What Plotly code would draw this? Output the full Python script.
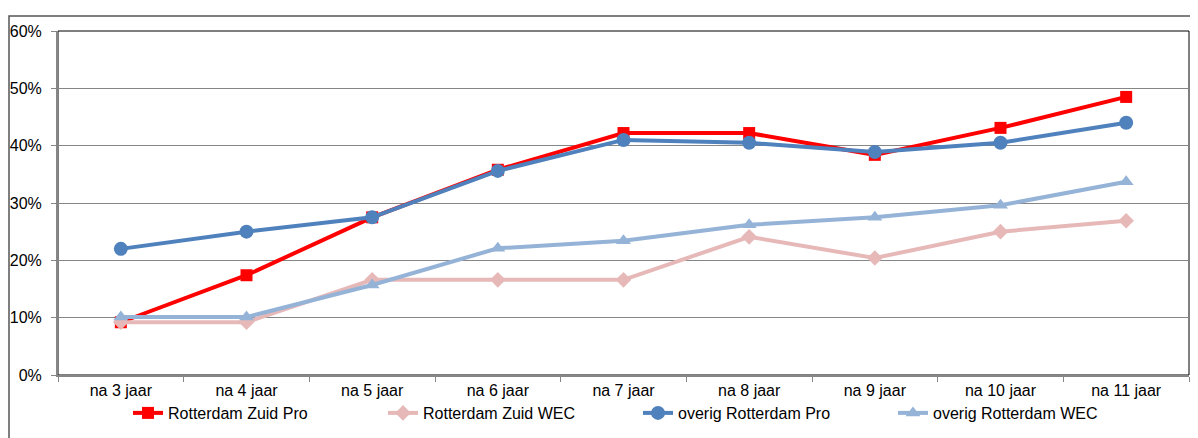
import plotly.graph_objects as go

categories = ["na 3 jaar", "na 4 jaar", "na 5 jaar", "na 6 jaar", "na 7 jaar",
              "na 8 jaar", "na 9 jaar", "na 10 jaar", "na 11 jaar"]
zuid_pro = [0.092, 0.174, 0.275, 0.358, 0.422, 0.422, 0.384, 0.431, 0.485]
zuid_wec = [0.092, 0.092, 0.166, 0.166, 0.166, 0.241, 0.204, 0.250, 0.269]
overig_pro = [0.220, 0.250, 0.275, 0.356, 0.410, 0.405, 0.389, 0.405, 0.440]
overig_wec = [0.101, 0.101, 0.157, 0.221, 0.234, 0.262, 0.275, 0.296, 0.337]
y_ticks = [0, 0.1, 0.2, 0.3, 0.4, 0.5, 0.6]

series = [
    ("Rotterdam Zuid Pro", zuid_pro, "#FF0000", "square", 12),
    ("Rotterdam Zuid WEC", zuid_wec, "#E6B9B8", "diamond", 12),
    ("overig Rotterdam Pro", overig_pro, "#4F81BD", "circle", 14),
    ("overig Rotterdam WEC", overig_wec, "#95B3D7", "triangle-up", 13),
]

fig = go.Figure()
for name, vals, color, sym, size in series:
    fig.add_trace(go.Scatter(
        x=categories, y=vals, name=name, mode="lines+markers",
        line=dict(color=color, width=4),
        marker=dict(color=color, symbol=sym, size=size, line=dict(width=0)),
    ))

# page has an 8px body margin: figure coordinates are page - 8
W, H = 1190, 430
L, T, R, B = 50, 23, 9, 63
pw, ph = W - L - R, H - T - B

fig.update_layout(
    width=W, height=H,
    margin=dict(l=L, r=R, t=T, b=B, autoexpand=False),
    paper_bgcolor="white", plot_bgcolor="white",
    font=dict(family="Liberation Sans, Arial, sans-serif", size=16, color="black"),
    showlegend=True,
    legend=dict(
        orientation="h", x=70 / pw, xanchor="left",
        y=-21 / ph, yanchor="top",
        entrywidth=210, entrywidthmode="pixels",
        font=dict(size=16), bgcolor="rgba(0,0,0,0)",
        itemclick=False, tracegroupgap=0,
    ),
    xaxis=dict(
        type="category", range=[-0.5, 8.5], showgrid=False,
        showline=True, linecolor="#868686", linewidth=2,
        ticks="outside", tickson="boundaries", ticklen=5, tickcolor="#868686",
        tickfont=dict(size=16), fixedrange=True, automargin=False,
    ),
    yaxis=dict(
        range=[0, 0.6], tickvals=y_ticks, tickformat=".0%",
        showgrid=True, gridcolor="#868686", gridwidth=1,
        showline=True, linecolor="#868686", linewidth=2,
        ticks="outside", ticklen=5, tickcolor="#868686",
        tickfont=dict(size=16), ticklabelstandoff=6, zeroline=False,
        fixedrange=True, automargin=False,
    ),
)

# plot area border (black top/right)
fig.add_shape(type="rect", xref="paper", yref="paper", x0=0, y0=0, x1=1, y1=1,
              line=dict(color="black", width=1), layer="below")
# outer chart border
fig.add_shape(type="rect", xref="paper", yref="paper",
              x0=(1 - L) / pw, y0=-(B + 20) / ph,
              x1=1 + (R + 20) / pw, y1=1 + (T - 8) / ph,
              line=dict(color="#555555", width=1.5), layer="below")

fig.write_html("out.html")
